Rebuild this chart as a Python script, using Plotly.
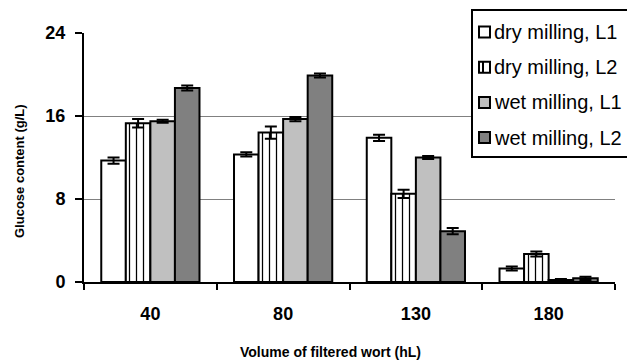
import plotly.graph_objects as go

categories = ["40", "80", "130", "180"]
series_names = ["dry milling, L1", "dry milling, L2", "wet milling, L1", "wet milling, L2"]
dry_L1 = [11.7, 12.3, 13.9, 1.3]
dry_L1_err = [0.3, 0.2, 0.3, 0.2]
dry_L2 = [15.3, 14.4, 8.5, 2.7]
dry_L2_err = [0.4, 0.6, 0.4, 0.25]
wet_L1 = [15.5, 15.7, 12.0, 0.2]
wet_L1_err = [0.15, 0.2, 0.15, 0.1]
wet_L2 = [18.7, 19.9, 4.9, 0.35]
wet_L2_err = [0.25, 0.2, 0.3, 0.15]
y_ticks = [0, 8, 16, 24]

W, H = 627, 362
ML, MR, MT, MB = 84, 12, 33, 80
PW, PH = W - ML - MR, H - MT - MB
FONT = "Arial, Liberation Sans, sans-serif"

def px(x):
    return (x - ML) / PW

def py(y):
    return (H - MB - y) / PH

fills = ["white", "white", "#c0c0c0", "#808080"]
values = [dry_L1, dry_L2, wet_L1, wet_L2]
errs = [dry_L1_err, dry_L2_err, wet_L1_err, wet_L2_err]

fig = go.Figure()
for i, (name, v, e, c) in enumerate(zip(series_names, values, errs, fills)):
    marker = dict(color=c, line=dict(color="black", width=2))
    if i == 1:
        marker["pattern"] = dict(shape="|", fgcolor="black", bgcolor="white",
                                 size=7, solidity=0.18, fillmode="replace")
    fig.add_trace(go.Bar(
        x=categories, y=v, name=name, marker=marker,
        error_y=dict(type="data", array=e, visible=True, color="black",
                     thickness=2, width=6),
        showlegend=False,
    ))

shapes = []
annotations = []
# legend box
shapes.append(dict(type="rect", xref="paper", yref="paper",
                   x0=px(472), x1=px(628), y0=py(157), y1=py(10),
                   line=dict(color="black", width=2), fillcolor="white", layer="above"))
for i, (name, c) in enumerate(zip(series_names, fills)):
    cy = 32 + 35.2 * i
    shapes.append(dict(type="rect", xref="paper", yref="paper",
                       x0=px(479), x1=px(490), y0=py(cy + 5.5), y1=py(cy - 5.5),
                       line=dict(color="black", width=2), fillcolor=c, layer="above"))
    if i == 1:
        shapes.append(dict(type="line", xref="paper", yref="paper",
                           x0=px(483), x1=px(483), y0=py(cy + 5.5), y1=py(cy - 5.5),
                           line=dict(color="black", width=2), layer="above"))
    annotations.append(dict(text=name, xref="paper", yref="paper",
                            x=px(492), y=py(cy), xanchor="left", yanchor="middle",
                            showarrow=False, font=dict(family=FONT, size=20, color="black")))

annotations.append(dict(text="<b>Volume of filtered wort (hL)</b>", xref="paper", yref="paper",
                        x=px(330), y=py(352), xanchor="center", yanchor="middle",
                        showarrow=False, font=dict(family=FONT, size=14, color="black")))
annotations.append(dict(text="<b>Glucose content (g/L)</b>", xref="paper", yref="paper",
                        x=px(19), y=py(171), xanchor="center", yanchor="middle", textangle=-90,
                        showarrow=False, font=dict(family=FONT, size=13, color="black")))

fig.update_layout(
    width=W, height=H,
    margin=dict(l=ML, r=MR, t=MT, b=MB),
    paper_bgcolor="white", plot_bgcolor="white",
    barmode="group", bargap=0.26, bargroupgap=0,
    shapes=shapes, annotations=annotations,
    showlegend=False,
)
fig.update_xaxes(
    type="category", showline=True, linecolor="black", linewidth=2,
    ticks="outside", tickson="boundaries", ticklen=6, tickwidth=2, tickcolor="black",
    tickfont=dict(family=FONT, size=18, color="black", weight="bold"),
    ticklabelstandoff=14, showgrid=False, zeroline=False,
)
fig.update_yaxes(
    range=[0, 24], tickvals=y_ticks, showline=True, linecolor="black", linewidth=2,
    ticks="outside", ticklen=7, tickwidth=2, tickcolor="black",
    tickfont=dict(family=FONT, size=18, color="black", weight="bold"),
    ticklabelstandoff=6, showgrid=True, gridcolor="#808080", gridwidth=1, zeroline=False,
)

fig.write_html("out.html")
